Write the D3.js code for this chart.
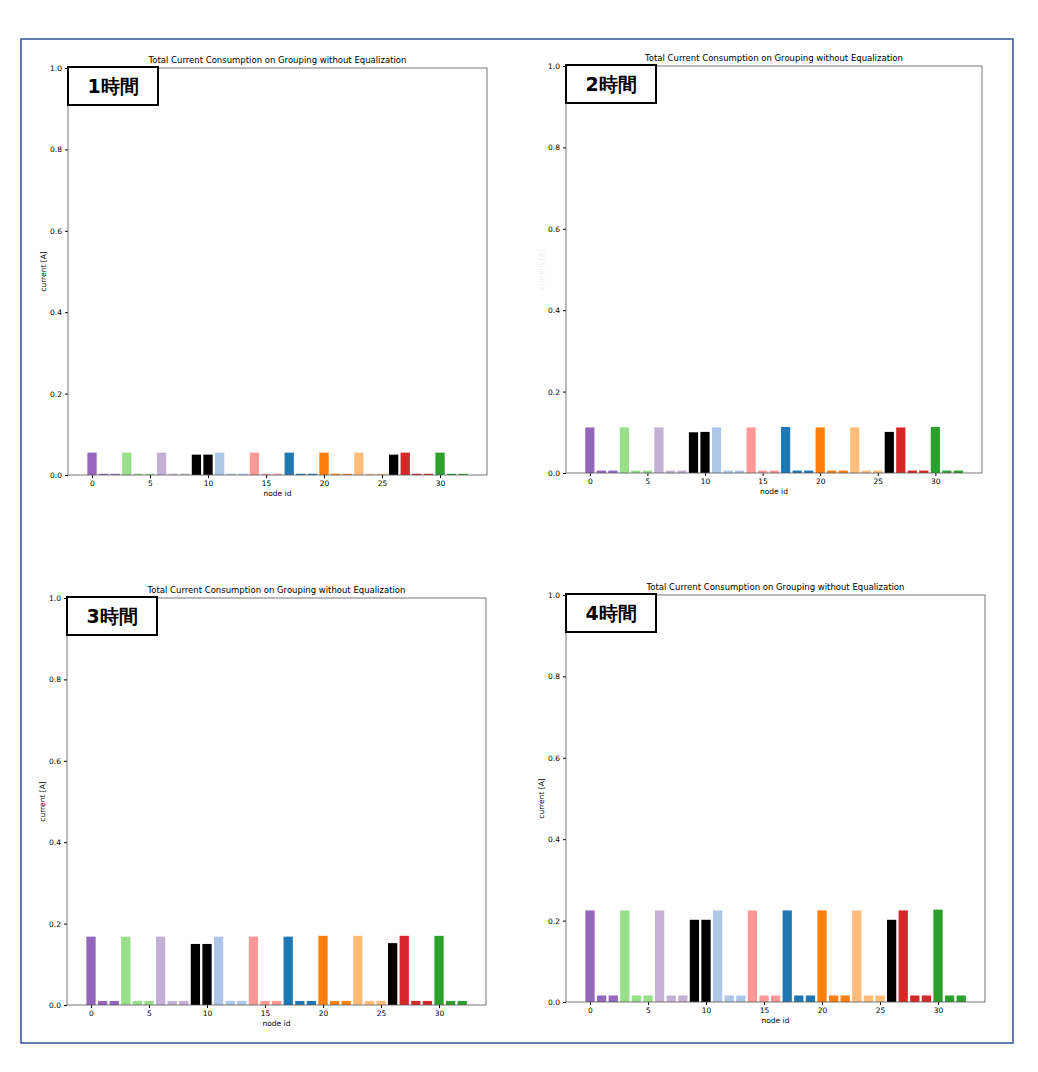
<!DOCTYPE html>
<html><head><meta charset="utf-8">
<script src="https://cdn.jsdelivr.net/npm/d3@7"></script>
<style>body{margin:0;background:#fff}text{font-family:"DejaVu Sans",sans-serif}</style>
</head><body><svg id="c" width="1038" height="1072"></svg>
<script>
const nodeIds = d3.range(33);
const nodeColors = ["#9467bd","#9467bd","#9467bd","#98df8a","#98df8a","#98df8a","#c5b0d5","#c5b0d5","#c5b0d5","#000000","#000000","#aec7e8","#aec7e8","#aec7e8","#ff9896","#ff9896","#ff9896","#1f77b4","#1f77b4","#1f77b4","#ff7f0e","#ff7f0e","#ff7f0e","#ffbb78","#ffbb78","#ffbb78","#000000","#d62728","#d62728","#d62728","#2ca02c","#2ca02c","#2ca02c"];
const panelLabels = ["1時間","2時間","3時間","4時間"];
const values1 = [0.055,0.003,0.003,0.055,0.003,0.003,0.055,0.003,0.003,0.050,0.050,0.055,0.003,0.003,0.055,0.003,0.003,0.055,0.003,0.003,0.055,0.003,0.003,0.055,0.003,0.003,0.050,0.055,0.003,0.003,0.055,0.003,0.003];
const values2 = [0.112,0.006,0.006,0.112,0.006,0.006,0.112,0.006,0.006,0.100,0.101,0.112,0.006,0.006,0.112,0.006,0.006,0.113,0.006,0.006,0.112,0.006,0.006,0.112,0.006,0.006,0.101,0.112,0.006,0.006,0.113,0.006,0.006];
const values3 = [0.168,0.010,0.010,0.168,0.010,0.010,0.168,0.010,0.010,0.150,0.150,0.168,0.010,0.010,0.168,0.010,0.010,0.168,0.010,0.010,0.170,0.010,0.010,0.170,0.010,0.010,0.152,0.170,0.010,0.010,0.170,0.010,0.010];
const values4 = [0.225,0.016,0.016,0.225,0.016,0.016,0.225,0.016,0.016,0.202,0.202,0.225,0.016,0.016,0.225,0.016,0.016,0.225,0.016,0.016,0.225,0.016,0.016,0.225,0.016,0.016,0.202,0.225,0.016,0.016,0.227,0.016,0.016];
const xTicks = [0,5,10,15,20,25,30];
const yTicks = [0,0.2,0.4,0.6,0.8,1.0];
const series = [values1,values2,values3,values4];
const boxes = [[68,487,68,475,true],[566,982,66,473,false],[67,486,598,1005,true],[566,985,595,1002,true]];
const svg = d3.select("#c");
svg.append("rect").attr("x",21).attr("y",39).attr("width",992).attr("height",1004).attr("fill","none").attr("stroke","#2f5496").attr("stroke-width",1.5);
series.forEach((vals,i)=>{
  const [x0,x1,y0,y1,ylab] = boxes[i];
  const x = d3.scaleLinear().domain([-2.07,34.05]).range([x0,x1]);
  const y = d3.scaleLinear().domain([0,1]).range([y1,y0]);
  const g = svg.append("g");
  g.selectAll("rect.b").data(vals).join("rect").attr("class","b")
    .attr("x",(d,j)=>x(nodeIds[j]-0.4)).attr("width",x(0.8)-x(0))
    .attr("y",d=>y(d)).attr("height",d=>y(0)-y(d)).attr("fill",(d,j)=>nodeColors[j]);
  const xa = g.append("g").attr("transform",`translate(0,${y1})`).call(d3.axisBottom(x).tickValues(xTicks).tickSize(3).tickFormat(d3.format("d")));
  const ya = g.append("g").attr("transform",`translate(${x0},0)`).call(d3.axisLeft(y).tickValues(yTicks).tickSize(3).tickFormat(d3.format(".1f")));
  [xa,ya].forEach(a=>{a.select(".domain").remove();a.selectAll("text").attr("font-size",7.5).attr("fill","#000");a.selectAll("line").attr("stroke","#000");});
  g.append("rect").attr("x",x0).attr("y",y0).attr("width",x1-x0).attr("height",y1-y0).attr("fill","none").attr("stroke","#555").attr("stroke-width",0.8);
  g.append("text").attr("x",(x0+x1)/2).attr("y",y0-5).attr("text-anchor","middle").attr("font-size",8.5).text("Total Current Consumption on Grouping without Equalization");
  g.append("text").attr("x",(x0+x1)/2).attr("y",y1+21).attr("text-anchor","middle").attr("font-size",7.5).text("node id");
  g.append("text").attr("transform",`translate(${x0-22},${(y0+y1)/2}) rotate(-90)`).attr("text-anchor","middle").attr("font-size",7.5).attr("fill",ylab?"#000":"#eee").text("current [A]");
  g.append("rect").attr("x",x0).attr("y",y0-1).attr("width",90).attr("height",38).attr("fill","#fff").attr("stroke","#000").attr("stroke-width",2);
  g.append("text").attr("x",x0+45).attr("y",y0+25).attr("text-anchor","middle").attr("font-size",19).attr("font-weight","bold").attr("font-family","Noto Sans CJK JP").text(panelLabels[i]);
});
</script></body></html>
